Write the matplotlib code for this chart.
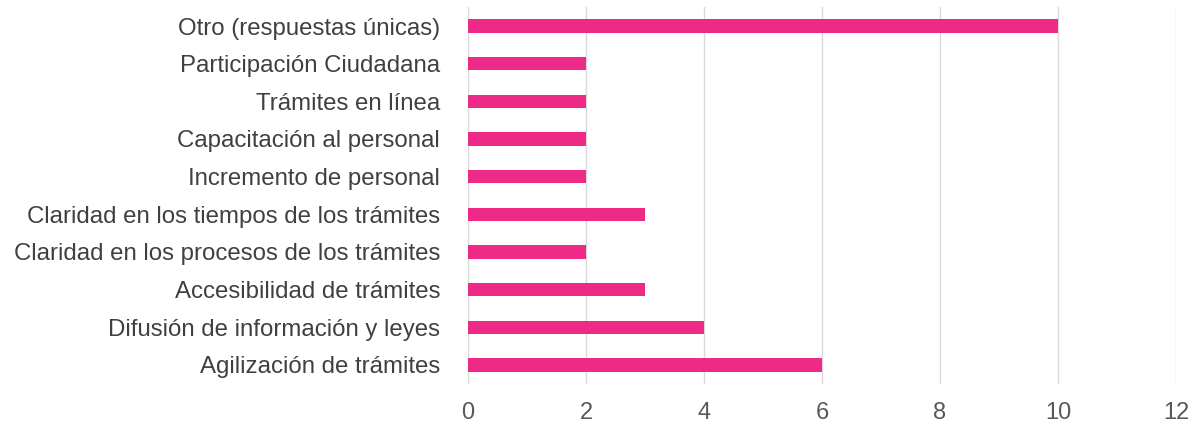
import matplotlib
matplotlib.use("Agg")
import matplotlib.pyplot as plt

categories = [
    "Agilización de trámites",
    "Difusión de información y leyes",
    "Accesibilidad de trámites",
    "Claridad en los procesos de los trámites",
    "Claridad en los tiempos de los trámites",
    "Incremento de personal",
    "Capacitación al personal",
    "Trámites en línea",
    "Participación Ciudadana",
    "Otro (respuestas únicas)",
]
values = [6, 4, 3, 2, 3, 2, 2, 2, 2, 10]
xticks = [0, 2, 4, 6, 8, 10, 12]

plt.rcParams['font.family'] = ['Liberation Sans', 'DejaVu Sans']

fig = plt.figure(figsize=(11.93, 4.23), dpi=100)
ax = fig.add_axes([0.3923, 0.0927, 0.5934, 0.8903])

ax.barh(range(len(categories)), values, height=0.35, color="#EE2A87", zorder=3)
ax.set_ylim(-0.5, len(categories) - 0.5)
ax.set_xlim(0, 12)
ax.set_xticks(xticks)
ax.set_xticklabels([str(t) for t in xticks])
ax.set_yticks(range(len(categories)))
ax.set_yticklabels(categories)

ax.grid(axis="x", color="#D9D9D9", linewidth=1.0, zorder=0)
for s in ax.spines.values():
    s.set_visible(False)
ax.tick_params(axis="both", length=0)
ax.tick_params(axis="x", labelsize=17, labelcolor="#595959", pad=13)
ax.tick_params(axis="y", labelsize=17.3, labelcolor="#404040", pad=20)

fig.savefig("out.png", dpi=100)
